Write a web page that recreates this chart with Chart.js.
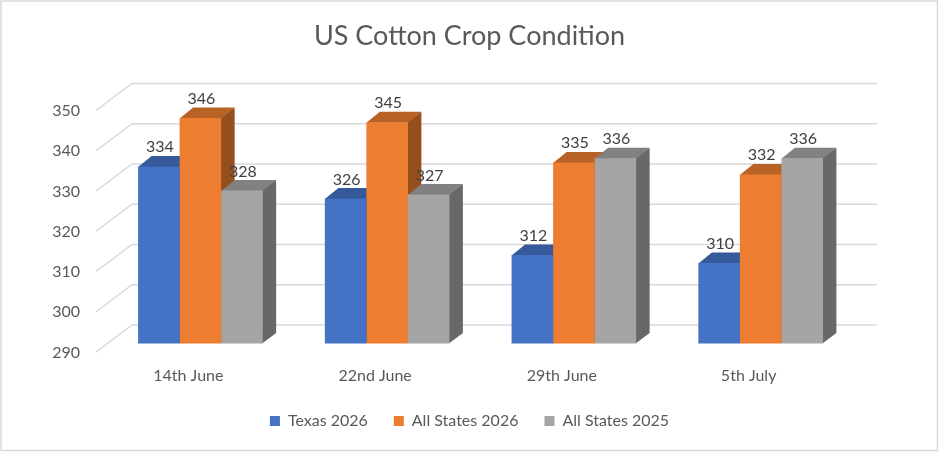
<!DOCTYPE html>
<html lang="en">
<head>
    <meta charset="UTF-8">
    <title>US Cotton Crop Condition</title>
    <style>
body {
    margin: 0;
    padding: 0;
    background-color: #fff;
}

#chart-box {
    width: 939px;
    height: 452px;
    position: relative;
}
    </style>
</head>
<body>
    <div id="chart-box">
        <canvas id="cropChart"></canvas>
    </div>

    <script src="https://cdn.jsdelivr.net/npm/chart.js"></script>
    <script>
        // Chart values
        const categories = ['14th June', '22nd June', '29th June', '5th July'];
        const seriesNames = ['Texas 2026', 'All States 2026', 'All States 2025'];
        const texas2026 = [334, 326, 312, 310];
        const allStates2026 = [346, 345, 335, 332];
        const allStates2025 = [328, 327, 336, 336];
        const yTicks = { min: 290, max: 350, step: 10 };

        // Face colours: front, top (darker), side (darkest)
        const frontColors = ['#4472C4', '#ED7D31', '#A5A5A5'];
        const topColors = ['#355999', '#B96226', '#818181'];
        const sideColors = ['#2B487C', '#954F1F', '#686868'];

        // How far the bars and the grid go "into" the picture
        const depthX = 13.5;
        const depthY = 10.5;

        Chart.defaults.font.family = 'Lato';
        Chart.defaults.color = '#595959';

        // White background and light frame
        const frame = {
            id: 'frame',
            beforeDraw(chart) {
                const ctx = chart.ctx;
                ctx.save();
                ctx.fillStyle = '#fff';
                ctx.fillRect(0, 0, chart.width, chart.height);
                ctx.strokeStyle = '#d9d9d9';
                ctx.lineWidth = 1.5;
                ctx.strokeRect(1, 1, chart.width - 2.5, chart.height - 2.5);
                ctx.restore();
            }
        };

        // Gridlines in perspective: a short slanted piece, then the back wall line
        function drawGrid(chart) {
            const { ctx, chartArea, scales: { y } } = chart;
            ctx.save();
            ctx.strokeStyle = '#d9d9d9';
            ctx.lineWidth = 1.5;
            y.ticks.forEach(t => {
                const py = y.getPixelForValue(t.value);
                ctx.beginPath();
                ctx.moveTo(chartArea.left - 11, py + 8.5);
                ctx.lineTo(chartArea.left + 25, py - 18.5);
                ctx.lineTo(chartArea.right + 23, py - 18.5);
                ctx.stroke();
            });
            ctx.restore();
        }

        // Top and side faces of every bar; Chart.js then paints the front faces over them
        function drawFaces(chart) {
            const ctx = chart.ctx;
            chart.data.datasets.forEach((ds, i) => {
                chart.getDatasetMeta(i).data.forEach(bar => {
                    const p = bar.getProps(['x', 'y', 'base', 'width'], true);
                    const y = p.y;
                    const base = Math.min(p.base, chart.chartArea.bottom);
                    const l = p.x - p.width / 2;
                    const r = p.x + p.width / 2;
                    ctx.save();
                    ctx.fillStyle = ds.sideColor;
                    ctx.beginPath();
                    ctx.moveTo(r - 0.5, y);
                    ctx.lineTo(r + depthX, y - depthY);
                    ctx.lineTo(r + depthX, base - depthY);
                    ctx.lineTo(r - 0.5, base);
                    ctx.closePath();
                    ctx.fill();
                    ctx.fillStyle = ds.topColor;
                    ctx.beginPath();
                    ctx.moveTo(l, y + 0.5);
                    ctx.lineTo(l + depthX, y - depthY);
                    ctx.lineTo(r + depthX, y - depthY);
                    ctx.lineTo(r, y + 0.5);
                    ctx.closePath();
                    ctx.fill();
                    ctx.restore();
                });
            });
        }

        const bar3d = {
            id: 'bar3d',
            beforeDatasetsDraw(chart) {
                drawGrid(chart);
                drawFaces(chart);
            }
        };

        // Value labels above each bar
        const valueLabels = {
            id: 'valueLabels',
            afterDatasetsDraw(chart) {
                const ctx = chart.ctx;
                ctx.save();
                ctx.font = '16px Lato';
                ctx.fillStyle = '#404040';
                ctx.textAlign = 'center';
                ctx.textBaseline = 'alphabetic';
                chart.data.datasets.forEach((ds, i) => {
                    chart.getDatasetMeta(i).data.forEach((bar, j) => {
                        const { x, y } = bar.getProps(['x', 'y'], true);
                        ctx.fillText(ds.data[j], x + 1, y - 14);
                    });
                });
                ctx.restore();
            }
        };

        const seriesValues = [texas2026, allStates2026, allStates2025];

        const chartData = {
            labels: categories,
            datasets: seriesNames.map((name, i) => ({
                label: name,
                data: seriesValues[i],
                backgroundColor: frontColors[i],
                topColor: topColors[i],
                sideColor: sideColors[i],
                borderWidth: 0,
                barPercentage: 1,
                categoryPercentage: 0.667
            }))
        };

        const chartOptions = {
            responsive: true,
            maintainAspectRatio: false,
            animation: false,
            layout: {
                padding: { left: 0, right: 0, top: 0, bottom: 13 }
            },
            plugins: {
                title: {
                    display: true,
                    text: 'US Cotton Crop Condition',
                    color: '#595959',
                    font: { size: 27, weight: 'normal' },
                    padding: { top: 20, bottom: 49.6 }
                },
                legend: {
                    position: 'bottom',
                    labels: {
                        boxWidth: 10,
                        boxHeight: 10,
                        padding: 26,
                        color: '#595959',
                        font: { size: 16 }
                    }
                },
                tooltip: { enabled: false }
            },
            scales: {
                x: {
                    grid: { display: false, drawTicks: false },
                    border: { display: false },
                    ticks: {
                        color: '#595959',
                        font: { size: 16 },
                        padding: 23,
                        labelOffset: -12
                    },
                    afterFit(scale) {
                        scale.height = 43.5;
                    }
                },
                y: {
                    min: yTicks.min,
                    max: yTicks.max,
                    grid: { display: false, drawTicks: false },
                    border: { display: false },
                    ticks: {
                        stepSize: yTicks.step,
                        color: '#595959',
                        font: { size: 16 },
                        padding: 27,
                        labelOffset: 9
                    },
                    afterFit(scale) {
                        scale.width = 107;
                    }
                },
                // empty axis that only keeps room on the right
                yRight: {
                    position: 'right',
                    grid: { display: false, drawTicks: false },
                    border: { display: false },
                    ticks: { display: false },
                    afterFit(scale) {
                        scale.width = 85;
                    }
                }
            }
        };

        new Chart(document.getElementById('cropChart').getContext('2d'), {
            type: 'bar',
            data: chartData,
            options: chartOptions,
            plugins: [frame, bar3d, valueLabels]
        });
    </script>
</body>
</html>
